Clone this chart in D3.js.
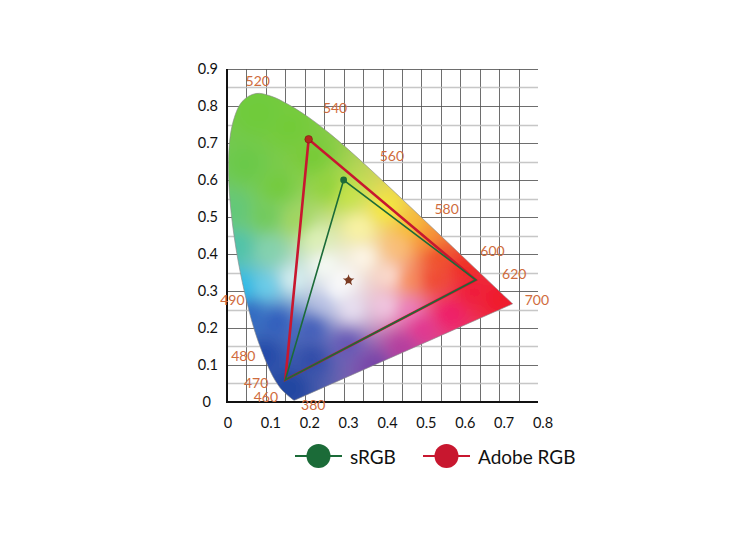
<!DOCTYPE html>
<html>
<head>
<meta charset="utf-8">
<script src="https://cdn.jsdelivr.net/npm/d3@7"></script>
<style>
  html, body { margin: 0; padding: 0; background: #fff; }
  svg { display: block; }
</style>
</head>
<body>
<svg id="chart" width="750" height="546"></svg>
<script>
// ---------- DATA ----------
// CIE 1931 spectral locus (wavelength nm, x, y)
const locusNm = [380,385,390,395,400,405,410,415,420,425,430,435,440,445,450,455,460,465,470,475,480,485,490,495,500,505,510,515,520,525,530,535,540,545,550,555,560,565,570,575,580,585,590,595,600,605,610,615,620,625,630,635,640,645,650,655,660,665,670,675,680,685,690,695,700];
const locusX = [0.1741,0.1740,0.1738,0.1736,0.1733,0.1730,0.1726,0.1721,0.1714,0.1703,0.1689,0.1669,0.1644,0.1611,0.1566,0.1510,0.1440,0.1355,0.1241,0.1096,0.0913,0.0687,0.0454,0.0235,0.0082,0.0039,0.0139,0.0389,0.0743,0.1142,0.1547,0.1929,0.2296,0.2658,0.3016,0.3373,0.3731,0.4087,0.4441,0.4788,0.5125,0.5448,0.5752,0.6029,0.6270,0.6482,0.6658,0.6801,0.6915,0.7006,0.7079,0.7140,0.7190,0.7230,0.7260,0.7283,0.7300,0.7311,0.7320,0.7327,0.7334,0.7340,0.7344,0.7346,0.7347];
const locusY = [0.0050,0.0050,0.0049,0.0049,0.0048,0.0048,0.0048,0.0048,0.0051,0.0058,0.0069,0.0086,0.0109,0.0138,0.0177,0.0227,0.0297,0.0399,0.0578,0.0868,0.1327,0.2007,0.2950,0.4127,0.5384,0.6548,0.7502,0.8120,0.8338,0.8262,0.8059,0.7816,0.7543,0.7243,0.6923,0.6589,0.6245,0.5896,0.5547,0.5202,0.4866,0.4544,0.4242,0.3965,0.3725,0.3514,0.3340,0.3197,0.3083,0.2993,0.2920,0.2859,0.2809,0.2770,0.2740,0.2717,0.2700,0.2689,0.2680,0.2673,0.2666,0.2660,0.2656,0.2654,0.2653];

// Wavelength annotations (label, x, y in chromaticity units)
const waveLabels = ["520","540","560","580","600","620","700","490","480","470","460","380"];
const waveLabelX = [0.079,0.278,0.424,0.565,0.683,0.739,0.797,0.014,0.042,0.075,0.100,0.222];
const waveLabelY = [0.870,0.795,0.665,0.524,0.409,0.348,0.278,0.278,0.127,0.054,0.015,-0.006];

// Gamut primaries (R, G, B)
const gamutNames = ["sRGB","Adobe RGB"];
const srgbX = [0.64, 0.30, 0.15];
const srgbY = [0.33, 0.60, 0.06];
const adobeX = [0.64, 0.21, 0.15];
const adobeY = [0.33, 0.71, 0.06];
// White point D65
const whiteX = 0.3127, whiteY = 0.329;

// Axis ticks
const xTicks = [0,0.1,0.2,0.3,0.4,0.5,0.6,0.7,0.8];
const yTicks = [0,0.1,0.2,0.3,0.4,0.5,0.6,0.7,0.8,0.9];
const xTickLabels = ["0","0.1","0.2","0.3","0.4","0.5","0.6","0.7","0.8"];
const yTickLabels = ["0","0.1","0.2","0.3","0.4","0.5","0.6","0.7","0.8","0.9"];

// ---------- STYLE ----------
const colors = { srgb: "#1b6b38", adobe: "#c8172f", wave: "#cf6c3d", white: "#7a3a22" };
// colour anchors used to paint the horseshoe (x, y, colour)
const paintAnchors = [
  [0.08,0.78,"#6ecb3a"],[0.16,0.74,"#72cb38"],[0.22,0.66,"#76cb36"],[0.05,0.64,"#6ac948"],
  [0.13,0.58,"#72cb3c"],[0.26,0.58,"#8ed23c"],[0.02,0.52,"#62c878"],[0.10,0.50,"#70ca58"],[0.18,0.49,"#a2d65a"],
  [0.03,0.42,"#4cc2aa"],[0.11,0.41,"#84d2ae"],[0.035,0.31,"#24bdec"],[0.10,0.31,"#6ad0ec"],
  [0.17,0.33,"#dcf2f4"],[0.06,0.24,"#2e64c0"],[0.13,0.22,"#2b58bc"],[0.10,0.13,"#2348a8"],
  [0.16,0.04,"#1f44a0"],[0.22,0.12,"#2d4aa8"],[0.22,0.20,"#3a58b8"],[0.25,0.27,"#b4bee4"],
  [0.32,0.25,"#ece4f4"],[0.31,0.16,"#6052b4"],[0.38,0.10,"#7442a8"],[0.45,0.15,"#b23a9e"],
  [0.50,0.20,"#e2308e"],[0.57,0.24,"#f01868"],[0.41,0.26,"#f2cce8"],[0.47,0.25,"#ec7ec0"],
  [0.63,0.30,"#f01a3a"],[0.70,0.28,"#f0182a"],[0.61,0.36,"#ef2a24"],[0.54,0.39,"#f04a26"],
  [0.42,0.34,"#fde4da"],[0.47,0.33,"#f78a52"],[0.53,0.33,"#f0442c"],
  [0.30,0.33,"#ffffff"],[0.25,0.37,"#fbfefb"],[0.35,0.39,"#fffaee"],[0.28,0.30,"#ffffff"],
  [0.41,0.52,"#f6ea3a"],[0.34,0.47,"#fcf6a6"],[0.31,0.56,"#c8e448"],[0.47,0.47,"#f8c232"],
  [0.51,0.44,"#f79230"],[0.44,0.42,"#fbc07a"],[0.23,0.44,"#e0f2b8"]
];

// ---------- SCALES ----------
const svg = d3.select("#chart");
const x = d3.scaleLinear().domain([0, 0.8]).range([227, 538]);
const y = d3.scaleLinear().domain([0, 0.9]).range([402, 69]);

// ---------- GRID ----------
const gridX = d3.range(1, 16).map(i => i * 0.05);
const gridY = d3.range(1, 19).map(i => i * 0.05);
const grid = svg.append("g");
grid.selectAll("line.v").data(gridX).join("line")
  .attr("x1", d => Math.round(x(d)) + 0.5).attr("x2", d => Math.round(x(d)) + 0.5)
  .attr("y1", y(0.9)).attr("y2", y(0))
  .attr("stroke", "#555").attr("stroke-width", 1).attr("stroke-opacity", 0.85);
grid.selectAll("line.h").data(gridY).join("line")
  .attr("x1", x(0)).attr("x2", x(0.8))
  .attr("y1", d => Math.round(y(d)) + 0.5).attr("y2", d => Math.round(y(d)) + 0.5)
  .attr("stroke", (d, i) => (i % 2 === 1) ? "#555" : "#bdbdbd")
  .attr("stroke-width", (d, i) => (i % 2 === 1) ? 1 : 1.5)
  .attr("stroke-opacity", 0.85);

// ---------- HORSESHOE FILL ----------
const locusPts = locusNm.map((n, i) => [x(locusX[i]), y(locusY[i])]);
const locusPath = d3.line().curve(d3.curveCatmullRom.alpha(0.5))(locusPts) + "Z";

const W = 750, H = 546;
const canvas = document.createElement("canvas");
canvas.width = W; canvas.height = H;
const ctx = canvas.getContext("2d");
const img = ctx.createImageData(W, H);
const anc = paintAnchors.map(a => { const c = d3.rgb(a[2]); return [a[0], a[1], c.r, c.g, c.b]; });
const px0 = Math.floor(x(-0.02)), px1 = Math.ceil(x(0.77)), py0 = Math.floor(y(0.87)), py1 = Math.ceil(y(-0.02));
for (let py = py0; py <= py1; py++) {
  const cy = y.invert(py + 0.5);
  for (let px = px0; px <= px1; px++) {
    const cx = x.invert(px + 0.5);
    let sw = 0, r = 0, g = 0, b = 0;
    for (const a of anc) {
      const dx = cx - a[0], dy = cy - a[1];
      const d2 = dx * dx + dy * dy + 0.0006;
      const w = 1 / (d2 * Math.sqrt(d2));
      sw += w; r += w * a[2]; g += w * a[3]; b += w * a[4];
    }
    const k = (py * W + px) * 4;
    img.data[k] = r / sw; img.data[k + 1] = g / sw; img.data[k + 2] = b / sw; img.data[k + 3] = 255;
  }
}
ctx.putImageData(img, 0, 0);

const defs = svg.append("defs");
defs.append("clipPath").attr("id", "locusClip").append("path").attr("d", locusPath);
defs.append("filter").attr("id", "soft").attr("x", -0.1).attr("y", -0.1).attr("width", 1.2).attr("height", 1.2)
  .append("feGaussianBlur").attr("stdDeviation", 4);

svg.append("g").attr("clip-path", "url(#locusClip)")
  .append("image")
  .attr("href", canvas.toDataURL())
  .attr("x", 0).attr("y", 0).attr("width", W).attr("height", H)
  .attr("filter", "url(#soft)");

svg.append("path").attr("d", locusPath)
  .attr("fill", "none").attr("stroke", "#8a8a8a").attr("stroke-width", 0.8).attr("stroke-opacity", 0.8);

// ---------- AXES ----------
svg.append("line").attr("x1", x(0)).attr("x2", x(0)).attr("y1", y(0.9)).attr("y2", y(0) + 1)
  .attr("stroke", "#111").attr("stroke-width", 2);
svg.append("line").attr("x1", x(0) - 1).attr("x2", x(0.8)).attr("y1", y(0)).attr("y2", y(0))
  .attr("stroke", "#111").attr("stroke-width", 2);

const font = "Lato, 'Open Sans', sans-serif";
svg.append("g").selectAll("text").data(xTicks).join("text")
  .attr("x", (d, i) => x(d) + (i === 0 ? 1 : 5)).attr("y", 422)
  .attr("text-anchor", "middle").attr("dominant-baseline", "central")
  .attr("font-family", font).attr("font-size", 14.5).attr("fill", "#111")
  .text((d, i) => xTickLabels[i]);
svg.append("g").selectAll("text").data(yTicks).join("text")
  .attr("x", (d, i) => i === 0 ? 211 : 218).attr("y", d => y(d) - 1)
  .attr("text-anchor", "end").attr("dominant-baseline", "central")
  .attr("font-family", font).attr("font-size", 14.5).attr("fill", "#111")
  .text((d, i) => yTickLabels[i]);

// ---------- GAMUT TRIANGLES ----------
const tri = (xs, ys) => d3.line()(xs.map((v, i) => [x(v), y(ys[i])])) + "Z";
svg.append("path").attr("d", tri(adobeX, adobeY))
  .attr("fill", "none").attr("stroke", colors.adobe).attr("stroke-width", 2.6).attr("stroke-linejoin", "miter");
svg.append("path").attr("d", tri(srgbX, srgbY))
  .attr("fill", "none").attr("stroke", colors.srgb).attr("stroke-width", 1.6).attr("stroke-linejoin", "miter");
svg.append("circle").attr("cx", x(adobeX[1])).attr("cy", y(adobeY[1])).attr("r", 3.8)
  .attr("fill", "#b32a1c").attr("stroke", "#7a1a10").attr("stroke-width", 0.6);
svg.append("circle").attr("cx", x(srgbX[1])).attr("cy", y(srgbY[1])).attr("r", 3.4)
  .attr("fill", colors.srgb);

// white point
svg.append("path")
  .attr("transform", `translate(${x(whiteX)},${y(whiteY)})`)
  .attr("d", d3.symbol(d3.symbolStar, 42)())
  .attr("fill", colors.white);
svg.append("circle").attr("cx", x(whiteX)).attr("cy", y(whiteY)).attr("r", 3).attr("fill", colors.white);

// ---------- WAVELENGTH LABELS ----------
svg.append("g").selectAll("text").data(waveLabels).join("text")
  .attr("x", (d, i) => x(waveLabelX[i])).attr("y", (d, i) => y(waveLabelY[i]))
  .attr("text-anchor", "middle").attr("dominant-baseline", "central")
  .attr("font-family", font).attr("font-size", 14).attr("fill", colors.wave)
  .text(d => d);

// ---------- LEGEND ----------
const legendColors = [colors.srgb, colors.adobe];
const legendX = [295, 423];
const lg = svg.append("g");
gamutNames.forEach((name, i) => {
  const g = lg.append("g").attr("transform", `translate(${legendX[i]},456)`);
  g.append("line").attr("x1", 0).attr("x2", 47).attr("y1", 0).attr("y2", 0)
    .attr("stroke", legendColors[i]).attr("stroke-width", 2);
  g.append("circle").attr("cx", 23.5).attr("cy", 0).attr("r", 12).attr("fill", legendColors[i]);
  g.append("text").attr("x", 55).attr("y", 0).attr("dominant-baseline", "central")
    .attr("font-family", font).attr("font-size", 19).attr("fill", "#111").text(name);
});
</script>
</body>
</html>
